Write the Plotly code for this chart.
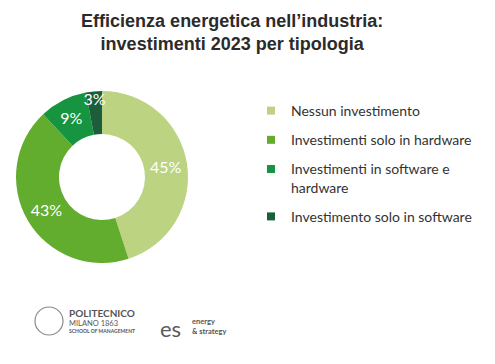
import plotly.graph_objects as go

categories = [
    "Nessun investimento",
    "Investimenti solo in hardware",
    "Investimenti in software e<br>hardware",
    "Investimento solo in software",
]
values = [45, 43, 9, 3]
colors = ["#bcd482", "#63ad2e", "#16943f", "#1c5e3b"]
title_lines = ["Efficienza energetica nell’industria:", "investimenti 2023 per tipologia"]

fig = go.Figure()

fig.add_trace(go.Pie(
    values=values,
    labels=categories,
    marker=dict(colors=colors, line=dict(width=0)),
    hole=0.5,
    sort=False,
    direction="clockwise",
    rotation=0,
    texttemplate="%{value}%",
    textposition="inside",
    insidetextorientation="horizontal",
    textfont=dict(family="Lato", size=16, color="white"),
    domain=dict(x=[0.0323, 0.3798], y=[0.2775, 0.75]),
    showlegend=False,
    hoverinfo="label+value",
))

for i, (name, col) in enumerate(zip(categories, colors)):
    fig.add_trace(go.Scatter(
        x=[None], y=[None], mode="markers", name=name,
        marker=dict(symbol="square", size=8, color=col),
        legendgroup=f"g{i}", showlegend=True,
    ))

fig.update_layout(
    width=495, height=364,
    margin=dict(l=0, r=0, t=0, b=0),
    paper_bgcolor="white", plot_bgcolor="white",
    xaxis=dict(visible=False), yaxis=dict(visible=False),
    title=dict(
        text="<br>".join(title_lines),
        x=0.469, xanchor="center", xref="paper",
        y=0.926, yanchor="top", yref="container",
        font=dict(family="Liberation Sans", size=18, color="#2b2b2b", weight="bold"),
    ),
    legend=dict(
        x=251 / 495, xanchor="left", y=1 - 95 / 364, yanchor="top",
        font=dict(family="Lato", size=14, color="#333333"),
        tracegroupgap=8, valign="top", bgcolor="rgba(0,0,0,0)",
    ),
    shapes=[dict(type="circle", xref="paper", yref="paper",
                 x0=35 / 495, x1=63 / 495, y0=1 - 335 / 364, y1=1 - 307 / 364,
                 line=dict(color="#8a8a8a", width=1.2))],
    annotations=[
        dict(text="<b>POLITECNICO</b>", x=67 / 495, y=1 - 313 / 364, xref="paper", yref="paper",
             xanchor="left", yanchor="middle", showarrow=False,
             font=dict(family="Lato", size=10, color="#555555")),
        dict(text="MILANO 1863", x=67 / 495, y=1 - 323 / 364, xref="paper", yref="paper",
             xanchor="left", yanchor="middle", showarrow=False,
             font=dict(family="Lato", size=7.5, color="#555555")),
        dict(text="<b>SCHOOL OF MANAGEMENT</b>", x=67 / 495, y=1 - 331 / 364, xref="paper", yref="paper",
             xanchor="left", yanchor="middle", showarrow=False,
             font=dict(family="Lato", size=5, color="#555555")),
        dict(text="es", x=158 / 495, y=1 - 328 / 364, xref="paper", yref="paper",
             xanchor="left", yanchor="middle", showarrow=False,
             font=dict(family="Lato", size=22, color="#5a5a5a")),
        dict(text="<b>energy</b>", x=190 / 495, y=1 - 321 / 364, xref="paper", yref="paper",
             xanchor="left", yanchor="middle", showarrow=False,
             font=dict(family="Lato", size=7.5, color="#555555")),
        dict(text="<b>& strategy</b>", x=190 / 495, y=1 - 331 / 364, xref="paper", yref="paper",
             xanchor="left", yanchor="middle", showarrow=False,
             font=dict(family="Lato", size=7.5, color="#555555")),
    ],
    uniformtext=dict(minsize=16, mode="show"),
)

fig.write_html("out.html", config={"displayModeBar": False},
               post_script="document.body.style.margin='0';")
